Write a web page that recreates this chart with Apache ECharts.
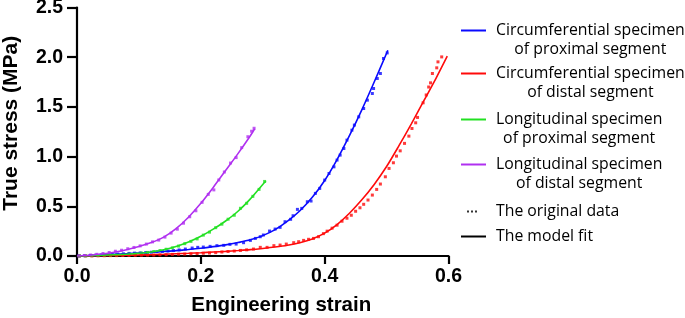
<!DOCTYPE html>
<html>
<head>
<meta charset="utf-8">
<script src="https://cdn.jsdelivr.net/npm/echarts@6/dist/echarts.min.js"></script>
<style>
  html, body { margin: 0; padding: 0; background: #fff; }
  #chart { width: 685px; height: 318px; }
</style>
</head>
<body>
<div id="chart"></div>
<script>
// legend / series names
const fitNames = [
  'Circumferential specimen of proximal segment',
  'Circumferential specimen of distal segment',
  'Longitudinal specimen of proximal segment',
  'Longitudinal specimen of distal segment'
];
const legendLines = [
  ['Circumferential specimen', 'of proximal segment'],
  ['Circumferential specimen', 'of distal segment'],
  ['Longitudinal specimen', 'of proximal segment'],
  ['Longitudinal specimen', 'of distal segment']
];
const dataName = 'The original data';
const modelName = 'The model fit';
const colors = ['#0a0aff', '#ff0a0a', '#22e022', '#b030f0'];

const xTickLabels = ['0.0', '0.2', '0.4', '0.6'];
const yTickLabels = ['0.0', '0.5', '1.0', '1.5', '2.0', '2.5'];

// model fits [strain, stress]
const circProxFit = [[0,0],[0.02,0.004],[0.04,0.01],[0.06,0.016],[0.08,0.023],[0.10,0.03],[0.12,0.037],[0.14,0.045],[0.16,0.054],[0.18,0.065],[0.20,0.078],[0.22,0.094],[0.24,0.112],[0.26,0.135],[0.28,0.163],[0.30,0.205],[0.32,0.265],[0.34,0.35],[0.36,0.455],[0.38,0.59],[0.40,0.76],[0.42,0.97],[0.44,1.21],[0.46,1.47],[0.48,1.75],[0.50,2.04],[0.502,2.07]];
const circDistFit = [[0,0],[0.02,0.001],[0.04,0.003],[0.06,0.005],[0.08,0.007],[0.10,0.01],[0.12,0.013],[0.14,0.017],[0.16,0.022],[0.18,0.027],[0.20,0.033],[0.22,0.04],[0.24,0.047],[0.26,0.055],[0.28,0.064],[0.30,0.076],[0.32,0.09],[0.34,0.108],[0.36,0.134],[0.38,0.172],[0.40,0.23],[0.42,0.316],[0.44,0.43],[0.46,0.565],[0.48,0.72],[0.50,0.90],[0.52,1.11],[0.54,1.33],[0.56,1.56],[0.58,1.79],[0.598,2.01]];
const longProxFit = [[0,0],[0.02,0.003],[0.04,0.007],[0.06,0.012],[0.08,0.018],[0.10,0.027],[0.12,0.04],[0.14,0.062],[0.16,0.095],[0.18,0.14],[0.20,0.198],[0.22,0.27],[0.24,0.352],[0.26,0.45],[0.28,0.575],[0.30,0.72],[0.305,0.755]];
const longDistFit = [[0,0],[0.02,0.008],[0.04,0.02],[0.06,0.038],[0.08,0.062],[0.10,0.095],[0.12,0.135],[0.14,0.19],[0.16,0.275],[0.18,0.39],[0.20,0.53],[0.22,0.69],[0.24,0.86],[0.26,1.03],[0.28,1.21],[0.287,1.28]];

// original data points
const circProxData = [[0.003,0.001],[0.012,0.003],[0.021,0.005],[0.03,0.008],[0.039,0.011],[0.048,0.013],[0.057,0.016],[0.066,0.02],[0.075,0.022],[0.084,0.026],[0.093,0.029],[0.102,0.031],[0.111,0.035],[0.12,0.038],[0.129,0.043],[0.138,0.046],[0.147,0.05],[0.156,0.055],[0.165,0.061],[0.175,0.07],[0.186,0.08],[0.195,0.087],[0.204,0.09],[0.215,0.097],[0.226,0.104],[0.237,0.107],[0.247,0.117],[0.257,0.12],[0.269,0.134],[0.28,0.157],[0.288,0.177],[0.296,0.194],[0.301,0.211],[0.311,0.251],[0.32,0.271],[0.328,0.288],[0.336,0.345],[0.345,0.369],[0.349,0.405],[0.356,0.469],[0.363,0.479],[0.372,0.546],[0.378,0.553],[0.385,0.63],[0.392,0.68],[0.4,0.764],[0.407,0.83],[0.415,0.897],[0.42,0.965],[0.425,1.015],[0.431,1.082],[0.436,1.166],[0.444,1.266],[0.448,1.317],[0.455,1.40],[0.463,1.484],[0.469,1.568],[0.477,1.635],[0.479,1.685],[0.485,1.786],[0.49,1.836],[0.495,1.987],[0.501,2.043]];
const circDistData = [[0.004,0],[0.014,0.001],[0.024,0.001],[0.034,0.002],[0.044,0.003],[0.054,0.004],[0.064,0.004],[0.074,0.005],[0.084,0.006],[0.094,0.007],[0.104,0.008],[0.114,0.009],[0.124,0.01],[0.134,0.012],[0.144,0.013],[0.154,0.016],[0.164,0.018],[0.174,0.02],[0.184,0.022],[0.194,0.025],[0.204,0.028],[0.214,0.03],[0.224,0.034],[0.234,0.04],[0.244,0.045],[0.254,0.05],[0.264,0.056],[0.274,0.062],[0.285,0.07],[0.296,0.087],[0.307,0.087],[0.318,0.104],[0.328,0.11],[0.338,0.12],[0.35,0.134],[0.358,0.144],[0.366,0.157],[0.374,0.168],[0.382,0.177],[0.39,0.194],[0.398,0.225],[0.404,0.25],[0.412,0.28],[0.42,0.31],[0.428,0.35],[0.436,0.38],[0.443,0.41],[0.45,0.45],[0.457,0.485],[0.463,0.52],[0.47,0.563],[0.477,0.613],[0.484,0.67],[0.49,0.724],[0.498,0.797],[0.504,0.881],[0.511,0.938],[0.516,1.005],[0.522,1.058],[0.529,1.133],[0.536,1.206],[0.541,1.283],[0.547,1.34],[0.55,1.394],[0.559,1.541],[0.564,1.62],[0.568,1.70],[0.571,1.742],[0.574,1.836],[0.581,1.893],[0.583,1.953],[0.589,2.003]];
const longProxData = [[0.004,0.001],[0.014,0.002],[0.024,0.004],[0.034,0.005],[0.044,0.008],[0.054,0.01],[0.064,0.013],[0.074,0.016],[0.084,0.02],[0.094,0.024],[0.104,0.03],[0.114,0.036],[0.124,0.045],[0.134,0.055],[0.144,0.068],[0.154,0.082],[0.164,0.1],[0.174,0.124],[0.184,0.147],[0.194,0.172],[0.204,0.21],[0.214,0.24],[0.224,0.285],[0.234,0.32],[0.244,0.37],[0.254,0.41],[0.264,0.48],[0.274,0.53],[0.284,0.6],[0.294,0.67],[0.303,0.75]];
const longDistData = [[0.003,0.001],[0.012,0.005],[0.022,0.01],[0.032,0.017],[0.042,0.025],[0.052,0.035],[0.062,0.048],[0.072,0.058],[0.082,0.073],[0.092,0.086],[0.102,0.102],[0.112,0.12],[0.122,0.142],[0.132,0.16],[0.142,0.19],[0.152,0.23],[0.162,0.27],[0.172,0.33],[0.182,0.395],[0.192,0.455],[0.202,0.54],[0.212,0.62],[0.221,0.665],[0.229,0.765],[0.238,0.845],[0.248,0.935],[0.257,0.99],[0.266,1.09],[0.276,1.2],[0.282,1.255],[0.286,1.285]];

const fits = [circProxFit, circDistFit, longProxFit, longDistFit];
const points = [circProxData, circDistData, longProxData, longDistData];

const myChart = echarts.init(document.getElementById('chart'));

const legendFont = { fontFamily: 'Open Sans', fontSize: 15.8, lineHeight: 19, color: '#000' };
const fitLegendTops = [2, 45, 91, 136];

let legends = fitNames.map(function (name, i) {
  return {
    data: [name], left: 461, top: fitLegendTops[i], padding: 0,
    selectedMode: false, icon: 'rect', itemWidth: 25, itemHeight: 2,
    itemStyle: { borderWidth: 0 },
    formatter: function () {
      return legendLines[i].map(function (l) { return '{c|' + l + '}'; }).join('\n');
    },
    textStyle: Object.assign({}, legendFont, {
      padding: [19, 0, 0, 5],
      rich: { c: Object.assign({ align: 'center' }, legendFont) }
    })
  };
});
legends.push({
  data: [dataName], left: 467, top: 202, padding: 0, selectedMode: false,
  icon: 'path://M0,0h2v2h-2zM4,0h2v2h-2zM8,0h2v2h-2z', itemWidth: 10, itemHeight: 2,
  itemStyle: { borderWidth: 0 },
  textStyle: Object.assign({ padding: [0, 0, 0, 14] }, legendFont)
});
legends.push({
  data: [modelName], left: 461, top: 227, padding: 0, selectedMode: false,
  icon: 'rect', itemWidth: 25, itemHeight: 2,
  itemStyle: { borderWidth: 0 },
  textStyle: Object.assign({ padding: [0, 0, 0, 5] }, legendFont)
});

let series = [];
points.forEach(function (d, i) {
  series.push({
    name: fitNames[i] + ' (data)', type: 'scatter', data: d,
    symbol: 'rect', symbolSize: 3, itemStyle: { color: colors[i] }, z: 2
  });
});
fits.forEach(function (d, i) {
  series.push({
    name: fitNames[i], type: 'line', data: d, smooth: 0.3,
    symbol: 'none', showSymbol: false,
    itemStyle: { color: colors[i] }, lineStyle: { color: colors[i], width: 1.6 }, z: 3
  });
});
series.push({ name: dataName, type: 'scatter', data: [], itemStyle: { color: '#000' } });
series.push({ name: modelName, type: 'line', data: [], itemStyle: { color: '#000' }, lineStyle: { color: '#000' } });

const axisFont = { fontFamily: 'Liberation Sans', fontWeight: 'bold', color: '#000' };

let option = {
  animation: false,
  backgroundColor: '#fff',
  grid: { left: 77, right: 236.5, top: 7.5, bottom: 62, containLabel: false, outerBoundsMode: 'none' },
  legend: legends,
  xAxis: {
    type: 'value', min: 0, max: 0.6, interval: 0.2,
    name: 'Engineering strain', nameLocation: 'middle', nameGap: 39,
    nameTextStyle: Object.assign({ fontSize: 20.5, padding: [0, 0, 0, 37] }, axisFont),
    axisLine: { show: true, lineStyle: { color: '#000', width: 2.2 } },
    axisTick: { show: true, length: 8, lineStyle: { color: '#000', width: 2.2 } },
    splitLine: { show: false },
    axisLabel: Object.assign({
      fontSize: 19.5, margin: 11,
      formatter: function (v) { return xTickLabels[Math.round(v / 0.2)]; }
    }, axisFont)
  },
  yAxis: {
    type: 'value', min: 0, max: 2.5, interval: 0.5,
    name: 'True stress (MPa)', nameLocation: 'middle', nameGap: 55,
    nameTextStyle: Object.assign({ fontSize: 21, padding: [0, 0, 0, 17] }, axisFont),
    axisLine: { show: true, lineStyle: { color: '#000', width: 2.2 } },
    axisTick: { show: true, length: 10, lineStyle: { color: '#000', width: 2.2 } },
    splitLine: { show: false },
    axisLabel: Object.assign({
      fontSize: 19.5, margin: 14,
      formatter: function (v) { return yTickLabels[Math.round(v / 0.5)]; }
    }, axisFont)
  },
  series: series
};
myChart.setOption(option, true);
</script>
</body>
</html>
